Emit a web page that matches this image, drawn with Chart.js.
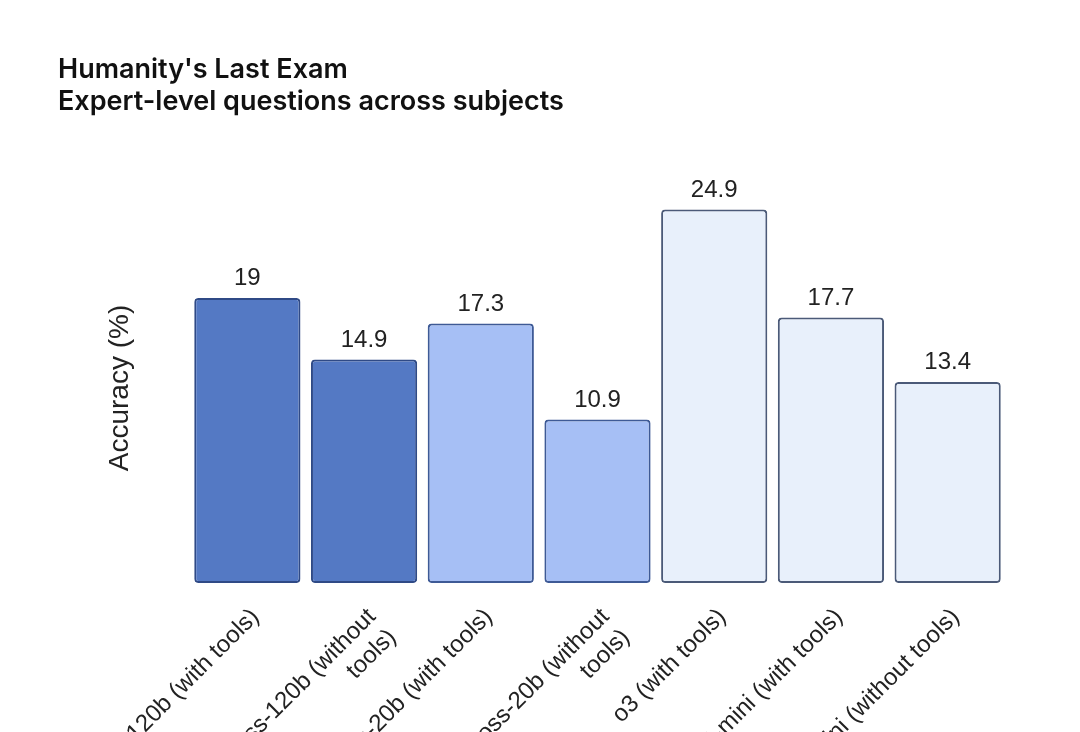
<!DOCTYPE html>
<html>
<head>
<meta charset="utf-8">
<script src="https://cdn.jsdelivr.net/npm/chart.js@4"></script>
<style>
    html, body { margin: 0; padding: 0; background: #fff; overflow: hidden; }
    #wrap { width: 1080px; height: 880px; position: relative; }
</style>
</head>
<body>
<div id="wrap"><canvas id="hleChart"></canvas></div>
<script>
const categories = [
    'gpt-oss-120b (with tools)',
    ['gpt-oss-120b (without', 'tools)'],
    'gpt-oss-20b (with tools)',
    ['gpt-oss-20b (without', 'tools)'],
    'o3 (with tools)',
    'o4-mini (with tools)',
    'o4-mini (without tools)'
];
const accuracy = [19, 14.9, 17.3, 10.9, 24.9, 17.7, 13.4];
const titleLines = ["Humanity's Last Exam", 'Expert-level questions across subjects'];

const fillColors   = ['#5479c4', '#5479c4', '#a6bff5', '#a6bff5', '#e8f0fb', '#e8f0fb', '#e8f0fb'];
const borderColors = ['#2f4a86', '#2f4a86', '#3e5a96', '#3e5a96', '#4b5a78', '#4b5a78', '#4b5a78'];

const labelFont = "'Liberation Sans', Arial, sans-serif";

// draws the value above each bar
const valueLabels = {
    id: 'valueLabels',
    afterDatasetsDraw: function (chart) {
        const ctx = chart.ctx;
        const meta = chart.getDatasetMeta(0);
        ctx.save();
        ctx.font = '24px ' + labelFont;
        ctx.fillStyle = '#222';
        ctx.textAlign = 'center';
        ctx.textBaseline = 'alphabetic';
        meta.data.forEach(function (bar, i) {
            ctx.fillText(String(chart.data.datasets[0].data[i]), bar.x, bar.y - 13);
        });
        ctx.restore();
    }
};

new Chart(document.getElementById('hleChart'), {
    type: 'bar',
    data: {
        labels: categories,
        datasets: [{
            label: 'Accuracy (%)',
            data: accuracy,
            backgroundColor: fillColors,
            borderColor: borderColors,
            borderWidth: 2,
            borderRadius: 4,
            borderSkipped: false,
            barPercentage: 0.91,
            categoryPercentage: 1
        }]
    },
    options: {
        responsive: true,
        maintainAspectRatio: false,
        animation: false,
        layout: { padding: { left: 58, right: 74, top: 0, bottom: 0 } },
        plugins: {
            legend: { display: false },
            tooltip: { enabled: false },
            title: {
                display: true,
                text: titleLines,
                align: 'start',
                color: '#111',
                font: { family: "Inter, 'Liberation Sans', sans-serif", size: 27, weight: '600', lineHeight: 32 / 27 },
                padding: { top: 54, bottom: 75 }
            }
        },
        scales: {
            x: {
                grid: { display: false },
                border: { display: false },
                ticks: {
                    color: '#222',
                    font: { family: labelFont, size: 24 },
                    minRotation: 45,
                    maxRotation: 45,
                    padding: 12,
                    labelOffset: 8,
                    autoSkip: false
                },
                afterFit: function (scale) { scale.height = 297; }
            },
            y: {
                min: 0,
                max: 26,
                grid: { display: false },
                border: { display: false },
                ticks: { display: false },
                title: {
                    display: true,
                    text: 'Accuracy (%)',
                    color: '#222',
                    font: { family: labelFont, size: 28 },
                    padding: { top: 45, bottom: 0 }
                },
                afterFit: function (scale) { scale.width = 131; }
            }
        }
    },
    plugins: [valueLabels]
});
</script>
</body>
</html>
